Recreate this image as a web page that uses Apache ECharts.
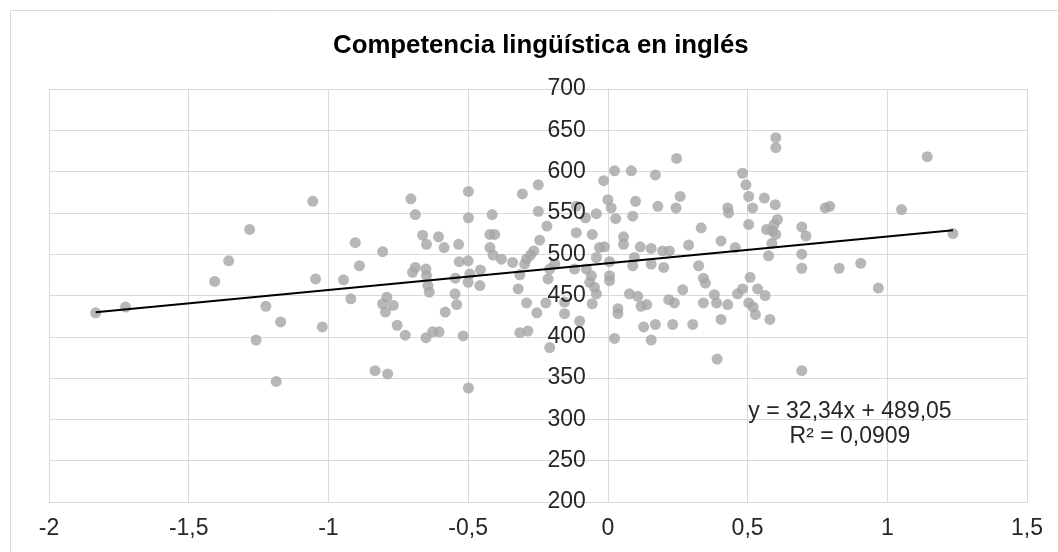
<!DOCTYPE html>
<html>
<head>
<meta charset="utf-8">
<script src="https://cdn.jsdelivr.net/npm/echarts@6/dist/echarts.min.js"></script>
<style>
  html, body { margin: 0; padding: 0; background: #fff; }
  #chart { width: 1058px; height: 552px; }
</style>
</head>
<body>
<div id="chart"></div>
<script>
// Socio-economic index (x) against English competence score (y), one point per school
const indexValues = [
  -1.833, -1.726, -1.407, -1.357, -1.282, -1.056, -1.046, -1.224, -1.171, -1.259, -1.022, -1.187,
  -0.705, -0.689, -0.904, -0.806, -0.663, -0.649, -0.606, -0.586, -0.534, -0.532, -0.499, -0.499,
  -0.889, -0.946, -0.920, -0.689, -0.699, -0.651, -0.649, -0.644, -0.639, -0.546, -0.547, -0.541,
  -0.582, -0.791, -0.806, -0.768, -0.796, -0.754, -0.725, -0.651, -0.627, -0.604, -0.518, -0.833,
  -0.788, -0.499,
  -0.414, -0.422, -0.405, -0.422, -0.411, -0.381, -0.341, -0.500, -0.456, -0.494, -0.500, -0.458,
  -0.306, -0.249, -0.249, -0.218, -0.244, -0.265, -0.277, -0.291, -0.298, -0.315, -0.321, -0.291,
  -0.254, -0.222, -0.315, -0.286, -0.208, -0.208, -0.190, -0.214,
  -0.015, 0.024, 0.084, 0.000, 0.012, 0.028, -0.041, -0.080, -0.113, 0.089, 0.099, -0.113,
  -0.056, 0.056, 0.056, -0.012, -0.030, -0.041, 0.006, 0.095, -0.077, -0.119, -0.059, 0.006,
  0.006, -0.065, -0.048, -0.041, -0.056, -0.155, -0.155, -0.101, 0.036, 0.036, 0.077, 0.107,
  0.024,
  0.170, 0.246, 0.179, 0.244, 0.259, 0.334, 0.429, 0.432, 0.405, 0.289, 0.456, 0.116,
  0.155, 0.196, 0.220, 0.089, 0.155, 0.200, 0.325, 0.342, 0.349, 0.268, 0.119, 0.139,
  0.218, 0.238, 0.342, 0.381, 0.389, 0.429, 0.464, 0.405, 0.128, 0.170, 0.232, 0.304,
  0.155, 0.391,
  0.601, 0.601, 0.482, 0.494, 0.504, 0.518, 0.560, 0.599, 0.607, 0.595, 0.568, 0.589,
  0.601, 0.504, 0.587, 0.575, 0.694, 0.709, 0.694, 0.694, 0.778, 0.794, 0.828, 0.509,
  0.482, 0.536, 0.563, 0.504, 0.520, 0.528, 0.580, 0.694,
  1.143, 1.051, 1.235, 0.905, 0.968
];

const englishScores = [
  429, 436, 467, 492, 530, 564, 470, 437, 418, 396, 412, 346,
  567, 548, 514, 503, 523, 512, 521, 508, 512, 491, 576, 544,
  486, 469, 446, 484, 478, 482, 474, 462, 454, 471, 452, 439,
  430, 448, 440, 438, 430, 414, 402, 399, 406, 406, 401, 359,
  355, 338,
  548, 524, 524, 508, 499, 494, 490, 492, 481, 476, 466, 462,
  573, 584, 552, 534, 517, 504, 499, 494, 488, 475, 458, 441,
  429, 441, 405, 407, 387, 482, 488, 470,
  589, 601, 601, 566, 556, 543, 549, 544, 558, 546, 564, 526,
  524, 521, 512, 509, 508, 496, 491, 496, 482, 482, 474, 474,
  468, 466, 460, 452, 440, 442, 428, 419, 434, 428, 452, 449,
  398,
  596, 616, 558, 556, 570, 532, 556, 550, 516, 511, 508, 509,
  507, 504, 504, 486, 488, 484, 486, 471, 465, 457, 437, 439,
  445, 441, 441, 451, 441, 439, 452, 421, 412, 415, 415, 415,
  396, 373,
  641, 629, 598, 584, 570, 556, 568, 560, 542, 536, 530, 528,
  524, 536, 513, 498, 533, 522, 500, 483, 556, 558, 483, 472,
  458, 458, 450, 441, 436, 427, 421, 359,
  618, 554, 525, 489, 459
];

// Axis ranges and horizontal tick labels (decimal comma)
const xRange = [-2, 1.5];
const yRange = [200, 700];
const xTickValues = [-2, -1.5, -1, -0.5, 0, 0.5, 1, 1.5];
const xTickLabels = ['-2', '-1,5', '-1', '-0,5', '0', '0,5', '1', '1,5'];

// Linear trend line
const slope = 32.34;
const intercept = 489.05;
const rSquared = 0.0909;

const FONT = "'Liberation Sans', Arial, sans-serif";
const LABEL_COLOR = '#262626';
const GRID_COLOR = '#d9d9d9';
const comma = (v, d) => v.toFixed(d).replace('.', ',');

const points = indexValues.map((x, i) => [x, englishScores[i]]);
const xMin = Math.min(...indexValues);
const xMax = Math.max(...indexValues);
const trend = [[xMin, intercept + slope * xMin], [xMax, intercept + slope * xMax]];

// Plot area in pixels
const GRID = { left: 49, right: 31, top: 89, bottom: 50 };
const plotWidth = 1058 - GRID.left - GRID.right;
// The vertical axis crosses the horizontal one at x = 0
const yAxisShift = (0 - xRange[0]) / (xRange[1] - xRange[0]) * plotWidth;

const chart = echarts.init(document.getElementById('chart'), null, { renderer: 'canvas' });

chart.setOption({
  animation: false,
  backgroundColor: '#fff',
  title: {
    text: 'Competencia lingüística en inglés',
    left: 328,
    top: 28,
    textStyle: { fontFamily: FONT, fontWeight: 'bold', fontSize: 25.8, color: '#000' }
  },
  grid: Object.assign({ containLabel: false, outerBoundsMode: 'none' }, GRID),
  xAxis: {
    type: 'value',
    min: xRange[0],
    max: xRange[1],
    interval: 0.5,
    axisLine: { show: true, onZero: false, lineStyle: { color: GRID_COLOR, width: 1 } },
    axisTick: { show: false },
    splitLine: { show: true, lineStyle: { color: GRID_COLOR, width: 1 } },
    axisLabel: {
      margin: 15,
      fontFamily: FONT,
      fontSize: 23,
      color: LABEL_COLOR,
      formatter: v => {
        const i = xTickValues.findIndex(t => Math.abs(t - v) < 1e-9);
        return i >= 0 ? xTickLabels[i] : '';
      }
    }
  },
  yAxis: [
    {
      // gridlines and the axis line at x = 0, below the markers
      type: 'value',
      min: yRange[0],
      max: yRange[1],
      interval: 50,
      position: 'left',
      offset: -yAxisShift,
      axisLine: { show: true, onZero: false, lineStyle: { color: GRID_COLOR, width: 1 } },
      axisTick: { show: false },
      axisLabel: { show: false },
      splitLine: { show: true, lineStyle: { color: GRID_COLOR, width: 1 } },
      z: 0
    },
    {
      // tick labels, drawn above the markers
      type: 'value',
      min: yRange[0],
      max: yRange[1],
      interval: 50,
      position: 'left',
      offset: -yAxisShift,
      axisLine: { show: false, onZero: false },
      axisTick: { show: false },
      splitLine: { show: false },
      axisLabel: { margin: 22, fontFamily: FONT, fontSize: 23, color: LABEL_COLOR },
      z: 6
    }
  ],
  series: [
    {
      type: 'scatter',
      data: points,
      yAxisIndex: 0,
      symbol: 'circle',
      symbolSize: 11,
      itemStyle: { color: '#a5a5a5' },
      z: 2
    },
    {
      type: 'line',
      data: trend,
      yAxisIndex: 0,
      symbol: 'none',
      lineStyle: { color: '#000', width: 2 },
      z: 3
    }
  ],
  graphic: [
    {
      type: 'rect',
      silent: true,
      z: -1,
      shape: { x: 10.5, y: 10.5, width: 1100, height: 600 },
      style: { fill: 'none', stroke: GRID_COLOR, lineWidth: 1 }
    },
    {
      type: 'text',
      x: 850,
      y: 412,
      z: 10,
      style: {
        text: 'y = ' + comma(slope, 2) + 'x + ' + comma(intercept, 2),
        font: '23px ' + FONT,
        fill: LABEL_COLOR,
        align: 'center',
        verticalAlign: 'middle',
        textAlign: 'center',
        textVerticalAlign: 'middle'
      }
    },
    {
      type: 'text',
      x: 850,
      y: 437,
      z: 10,
      style: {
        text: 'R² = ' + comma(rSquared, 4),
        font: '23px ' + FONT,
        fill: LABEL_COLOR,
        align: 'center',
        verticalAlign: 'middle',
        textAlign: 'center',
        textVerticalAlign: 'middle'
      }
    }
  ]
});
</script>
</body>
</html>
